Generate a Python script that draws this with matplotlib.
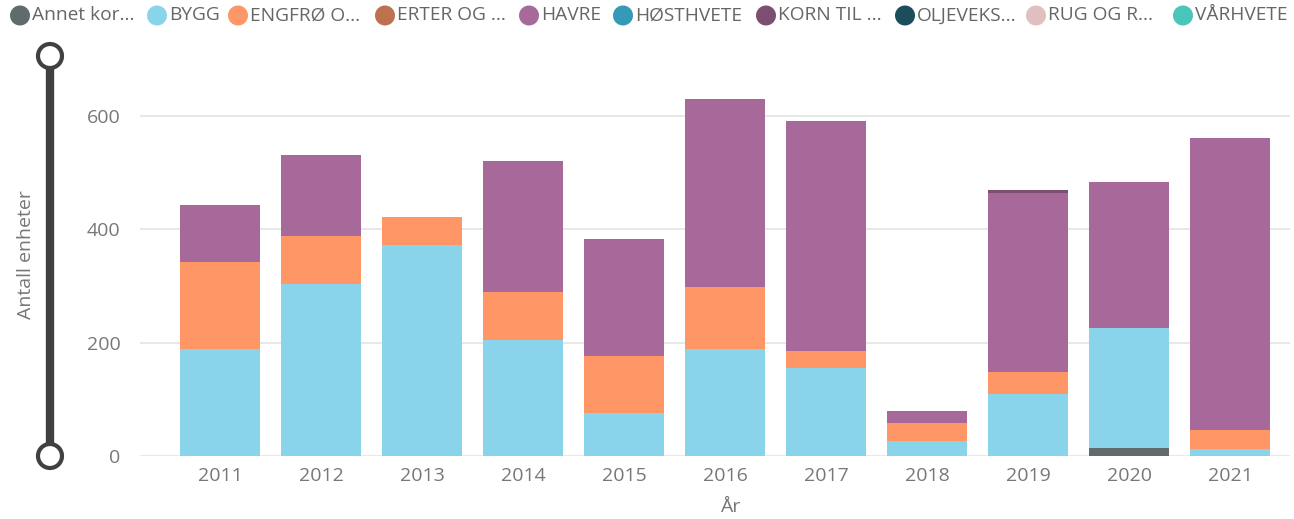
import matplotlib
matplotlib.use("Agg")
import matplotlib.pyplot as plt
from matplotlib.lines import Line2D
from matplotlib.patches import Circle
import numpy as np

years = ['2011', '2012', '2013', '2014', '2015', '2016', '2017', '2018', '2019', '2020', '2021']
series_names = ['Annet kor...', 'BYGG', 'ENGFRØ O...', 'ERTER OG ...', 'HAVRE', 'HØSTHVETE',
                'KORN TIL ...', 'OLJEVEKS...', 'RUG OG R...', 'VÅRHVETE']
colors = ['#5F6B6D', '#8AD4EB', '#FE9666', '#BD7150', '#A66999', '#3599B8',
          '#7B4F71', '#1B4D5C', '#DFBFBF', '#4AC5BB']

annet = [0, 0, 0, 0, 0, 0, 0, 0, 0, 14, 0]
bygg = [189, 303, 372, 205, 76, 189, 155, 26, 109, 212, 12]
engfro = [153, 85, 49, 84, 100, 109, 30, 32, 39, 0, 34]
erter = [0, 0, 0, 0, 0, 0, 0, 0, 0, 0, 0]
havre = [101, 143, 0, 231, 207, 332, 406, 21, 316, 257, 515]
hosthvete = [0, 0, 0, 0, 0, 0, 0, 0, 0, 0, 0]
korn = [0, 0, 0, 0, 0, 0, 0, 0, 5, 0, 0]
oljeveks = [0, 0, 0, 0, 0, 0, 0, 0, 0, 0, 0]
rug = [0, 0, 0, 0, 0, 0, 0, 0, 0, 0, 0]
varhvete = [0, 0, 0, 0, 0, 0, 0, 0, 0, 0, 0]

series = [annet, bygg, engfro, erter, havre, hosthvete, korn, oljeveks, rug, varhvete]

plt.rcParams['font.family'] = ['Open Sans', 'DejaVu Sans']
txt = '#777777'

W, H = 1294, 519
fig = plt.figure(figsize=(W / 100, H / 100), dpi=100)
ax = fig.add_axes([140 / W, (H - 456) / H, 1150 / W, 397 / H])

x = np.arange(len(years))
bottom = np.zeros(len(years))
for vals, c in zip(series, colors):
    v = np.array(vals, dtype=float)
    ax.bar(x, v, bottom=bottom, width=0.79, color=c, linewidth=0, zorder=3)
    bottom += v

ax.set_xlim(-0.792, 10.594)
ax.set_ylim(0, 700)
ax.set_yticks([0, 200, 400, 600])
ax.set_xticks(x)
ax.set_xticklabels(years)
for s in ax.spines.values():
    s.set_visible(False)
ax.tick_params(axis='both', length=0, labelsize=14, colors=txt)
ax.tick_params(axis='y', pad=14)
ax.tick_params(axis='x', pad=8)
ax.grid(axis='y', color='#e6e6e6', linewidth=1.3, zorder=0)
ax.set_axisbelow(True)
ax.set_xlabel('År', fontsize=14, color=txt)
ax.xaxis.set_label_coords((730 - 140) / 1150, -(507 - 456) / 397)
ax.xaxis.label.set_va('center')

fig.text(26 / W, (H - 255) / H, 'Antall enheter', rotation=90, fontsize=14, color=txt,
         ha='center', va='center')

# slider decoration
sl_x = 50 / W
fig.add_artist(Line2D([sl_x, sl_x], [(H - 57) / H, (H - 456) / H], color='#404040',
                      linewidth=6, transform=fig.transFigure, solid_capstyle='butt'))
for yy in (56, 456):
    fig.add_artist(Circle((50, H - yy), 12, transform=None, facecolor='white',
                          edgecolor='#404040', linewidth=3, zorder=5))

# legend (manual layout to mimic the Power BI legend)
legend_cx = [20, 157, 238, 385, 529, 623, 766, 905, 1036, 1183]
leg_y = (H - 15.5) / H
for cx, name, c in zip(legend_cx, series_names, colors):
    fig.add_artist(Circle((cx, H - 15.5), 10, transform=None, facecolor=c,
                          edgecolor='none', zorder=5))
    fig.text((cx + 12) / W, leg_y, name, fontsize=13.8, color='#666666',
             ha='left', va='center')

fig.savefig('out.png', dpi=100)
